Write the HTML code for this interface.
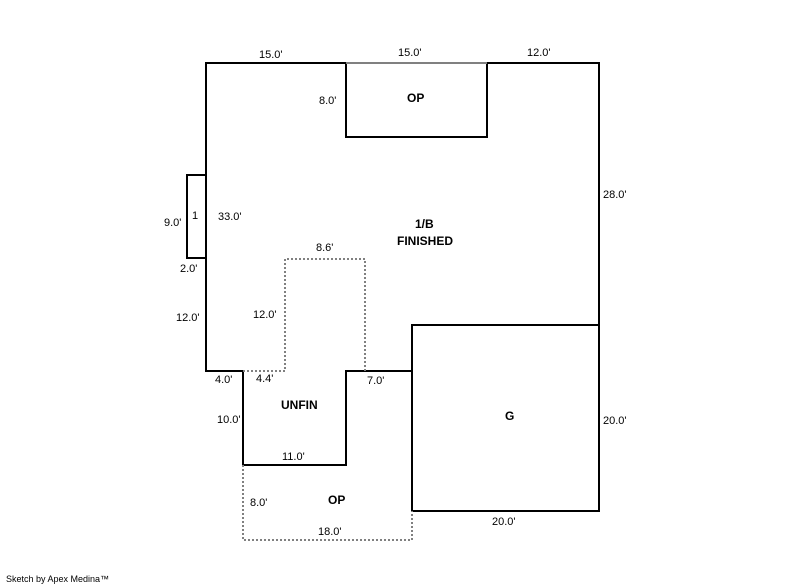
<!DOCTYPE html>
<html><head><meta charset="utf-8"><style>
html,body{margin:0;padding:0;background:#fff;}
svg{display:block;}
text{font-family:"Liberation Sans",Arial,sans-serif;font-size:11px;fill:#000;}
.b{font-weight:bold;font-size:12px;}
</style></head><body>
<svg width="800" height="587" viewBox="0 0 800 587" xmlns="http://www.w3.org/2000/svg">
<g fill="none" stroke="#000" stroke-width="2">
<polyline points="346,63 206,63 206,371 243,371 243,465 346,465 346,371 412,371 412,325 599,325 599,63 487,63"/>
<rect x="412" y="325" width="187" height="186"/>
<polyline points="346,63 346,137 487,137 487,63"/>
<polyline points="206,175 187,175 187,258 206,258"/>
</g>
<line x1="346" y1="63" x2="487" y2="63" stroke="#808080" stroke-width="2"/>
<g fill="none" stroke="#808080" stroke-width="2" stroke-dasharray="2,2">
<polyline points="243,371 285,371 285,259 365,259 365,371"/>
<polyline points="243,465 243,540 412,540 412,511"/>
</g>
<text x="259" y="58">15.0'</text>
<text x="398" y="56">15.0'</text>
<text x="527" y="56">12.0'</text>
<text x="319" y="104">8.0'</text>
<text class="b" x="407" y="102">OP</text>
<text x="603" y="198">28.0'</text>
<text x="164" y="226">9.0'</text>
<text x="192" y="219">1</text>
<text x="218" y="220">33.0'</text>
<text class="b" x="415" y="228">1/B</text>
<text class="b" x="397" y="245">FINISHED</text>
<text x="180" y="272">2.0'</text>
<text x="316" y="251">8.6'</text>
<text x="176" y="321">12.0'</text>
<text x="253" y="318">12.0'</text>
<text x="215" y="383">4.0'</text>
<text x="256" y="382">4.4'</text>
<text x="367" y="384">7.0'</text>
<text class="b" x="281" y="409">UNFIN</text>
<text class="b" x="505" y="420">G</text>
<text x="217" y="423">10.0'</text>
<text x="603" y="424">20.0'</text>
<text x="282" y="460">11.0'</text>
<text x="250" y="506">8.0'</text>
<text class="b" x="328" y="504">OP</text>
<text x="318" y="535">18.0'</text>
<text x="492" y="525">20.0'</text>
<text x="6" y="582" style="font-size:9px">Sketch by Apex Medina™</text>
</svg>
</body></html>
